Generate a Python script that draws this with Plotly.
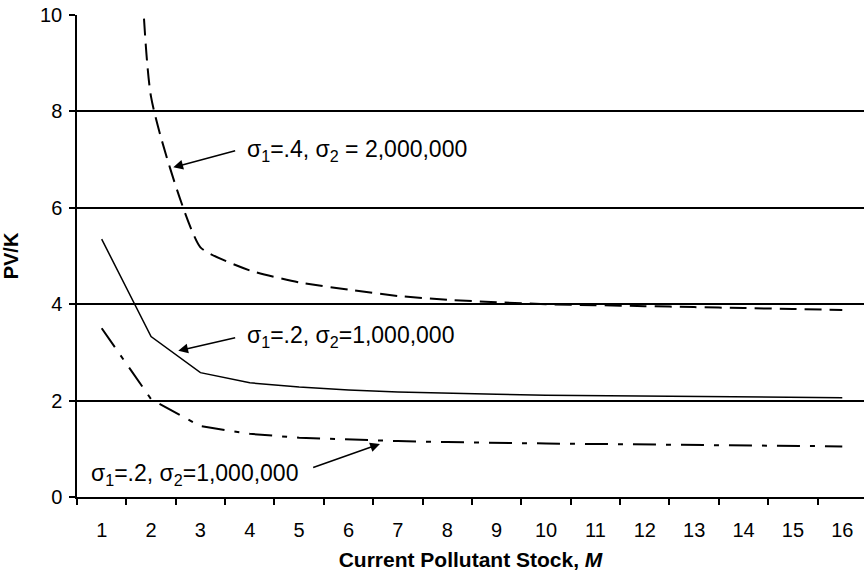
import plotly.graph_objects as go

# ---- data ----
stock_m = list(range(1, 17))
tick_labels = [str(v) for v in stock_m]

# sigma1=.4, sigma2=2,000,000 (dashed, smoothed; first point runs off the top of the chart)
pv_high = [40.0, 8.3, 5.18, 4.7, 4.45, 4.3, 4.17, 4.09, 4.04, 4.0, 3.98, 3.96, 3.94, 3.92, 3.9, 3.88]
# sigma1=.2, sigma2=1,000,000 (solid)
pv_mid = [5.35, 3.33, 2.58, 2.37, 2.28, 2.22, 2.18, 2.15, 2.13, 2.11, 2.10, 2.09, 2.08, 2.07, 2.07, 2.06]
# sigma1=.2, sigma2=1,000,000 (dash-dot)
pv_low = [3.5, 2.03, 1.47, 1.31, 1.23, 1.19, 1.16, 1.14, 1.12, 1.11, 1.10, 1.09, 1.07, 1.07, 1.06, 1.05]

label_high = "σ<sub>1</sub>=.4, σ<sub>2</sub> = 2,000,000"
label_mid = "σ<sub>1</sub>=.2, σ<sub>2</sub>=1,000,000"
label_low = "σ<sub>1</sub>=.2, σ<sub>2</sub>=1,000,000"

y_ticks = [0, 2, 4, 6, 8, 10]
x_title = "Current Pollutant Stock, <i>M</i>"
y_title = "PV/K"

FONT = "Arial, Liberation Sans, Helvetica, sans-serif"

fig = go.Figure()
fig.add_trace(go.Scatter(x=stock_m, y=pv_high, mode="lines",
                         line=dict(color="black", width=2, dash="17px,8px", shape="spline", smoothing=0.45),
                         showlegend=False, hoverinfo="skip"))
fig.add_trace(go.Scatter(x=stock_m, y=pv_mid, mode="lines",
                         line=dict(color="black", width=1.5),
                         showlegend=False, hoverinfo="skip"))
fig.add_trace(go.Scatter(x=stock_m, y=pv_low, mode="lines",
                         line=dict(color="black", width=2, dash="23px,10px,5px,10px"),
                         showlegend=False, hoverinfo="skip"))

arrows = [
    (2.45, 6.84, 3.734, 7.19),
    (2.551, 3.035, 3.734, 3.31),
    (6.636, 1.10, 5.253, 0.60),
]
for hx, hy, tx, ty in arrows:
    fig.add_annotation(x=hx, y=hy, ax=tx, ay=ty, xref="x", yref="y", axref="x", ayref="y",
                       text="", showarrow=True, arrowhead=2, arrowsize=1.3, arrowwidth=1.5,
                       arrowcolor="black")

texts = [
    (3.90, 7.19, label_high),
    (3.90, 3.33, label_mid),
    (0.74, 0.46, label_low),
]
for x, y, t in texts:
    fig.add_annotation(x=x, y=y, xref="x", yref="y", text=t, showarrow=False,
                       xanchor="left", yanchor="middle",
                       font=dict(family=FONT, size=23, color="black"))

fig.update_layout(
    width=864, height=576,
    margin=dict(l=77, r=0, t=15, b=79),
    paper_bgcolor="white", plot_bgcolor="white",
    font=dict(family=FONT, color="black"),
    xaxis=dict(
        range=[0.5, 16.44], tickvals=stock_m, ticktext=tick_labels,
        ticks="", showgrid=False, zeroline=False,
        showline=True, linecolor="black", linewidth=1.5,
        tickfont=dict(size=20, family=FONT, color="black"),
        minor=dict(tickvals=[v - 0.5 for v in stock_m] + [16.5], ticks="outside",
                   ticklen=6, tickwidth=1.5, tickcolor="black", showgrid=False),
        title=dict(text=x_title, font=dict(size=21, family=FONT, color="black", weight="bold"),
                   standoff=13),
        ticklabelstandoff=14,
    ),
    yaxis=dict(
        range=[0, 10], tickvals=y_ticks, ticks="outside", ticklen=6, tickwidth=1.5,
        tickcolor="black", showgrid=True, gridcolor="black", gridwidth=1.5,
        zeroline=False, showline=True, linecolor="black", linewidth=1.5,
        tickfont=dict(size=20, family=FONT, color="black"),
        title=dict(text=y_title, font=dict(size=20, family=FONT, color="black", weight="bold"),
                   standoff=18),
        ticklabelstandoff=3,
    ),
)

fig.write_html("out.html", config={"displayModeBar": False},
               post_script="document.body.style.margin='0px';")
